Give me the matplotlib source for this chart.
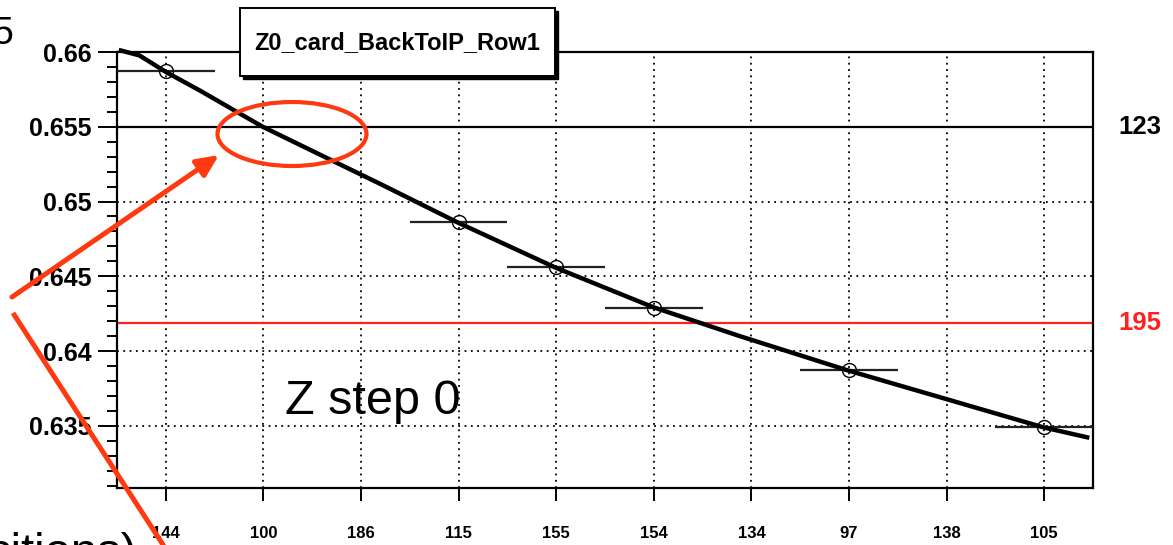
import numpy as np
import matplotlib.pyplot as plt
from matplotlib.patches import Rectangle, Ellipse
from matplotlib.transforms import blended_transform_factory

plt.rcParams['font.family'] = ['Liberation Sans', 'DejaVu Sans']

# bin labels along x
bins = ['144', '100', '186', '115', '155', '154', '134', '97', '138', '105']

# measured points (bin index, value)
pt_idx = [0, 3, 4, 5, 7, 9]
pt_val = [0.6587, 0.6486, 0.6456, 0.6429, 0.6387, 0.6349]

# fitted curve, sampled along x
fit_x = [-0.46, -0.27, 0.01, 0.35, 0.99, 1.71, 2.19, 3.0, 4.0, 4.99, 5.88, 6.98,
         7.98, 8.99, 9.44]
fit_y = [0.66010, 0.65977, 0.65863, 0.65742, 0.65501, 0.65272, 0.65120, 0.64857,
         0.64556, 0.64294, 0.6410, 0.63872, 0.63682, 0.63490, 0.63423]

# reference levels and their labels
ref_vals = [0.655, 0.64187]
ref_labels = ['123', '195']
ref_colors = ['black', '#ff2020']

W, H = 1173, 545
fig = plt.figure(figsize=(W / 100, H / 100), dpi=100)
ax = fig.add_axes([117 / W, 1 - 488 / H, (1093 - 117) / W, (488 - 52) / H])

xs = np.arange(len(bins))
ax.set_xlim(-0.5, len(bins) - 0.5)
ax.set_ylim(0.63084, 0.66)

dots = (0, (1, 2.5))
yt = np.arange(0.635, 0.6601, 0.005)
ax.set_xticks(xs)
ax.set_xticklabels(bins, fontsize=12, fontweight='bold')
ax.set_yticks(yt)
ax.set_yticklabels(['%g' % v for v in yt], fontsize=18, fontweight='bold')
ax.set_yticks(np.arange(0.631, 0.6601, 0.001), minor=True)
ax.tick_params(axis='x', direction='out', length=9, width=1.4, pad=18)
ax.tick_params(axis='y', which='major', direction='out', length=14, width=1.4, pad=4)
ax.tick_params(axis='y', which='minor', direction='out', length=7, width=1.4)
ax.grid(True, which='major', color='black', linestyle=dots, linewidth=1.3)
for s in ax.spines.values():
    s.set_linewidth(1.6)

for v, c in zip(ref_vals, ref_colors):
    ax.axhline(v, color=c, linewidth=1.6, zorder=2)

ax.errorbar(pt_idx, pt_val, xerr=0.5, fmt='o', mfc='none', mec='black', ms=10,
            mew=1.0, ecolor='#222222', elinewidth=1.6, capsize=0, zorder=3)
ax.plot(fit_x, fit_y, color='black', linewidth=3.2, zorder=4, clip_on=False)

tr = blended_transform_factory(ax.transAxes, ax.transData)
for v, lab, c in zip(ref_vals, ref_labels, ref_colors):
    ax.text(1.026, v, lab, transform=tr, color=c, fontsize=18.5,
            fontweight='bold', va='center', ha='left')

# overlay in pixel coordinates for the title box and annotations
ov = fig.add_axes([0, 0, 1, 1], zorder=10)
ov.set_xlim(0, W)
ov.set_ylim(H, 0)
ov.axis('off')
ov.patch.set_alpha(0)

ov.add_patch(Rectangle((243, 11), 315, 68, facecolor='black', edgecolor='black'))
ov.add_patch(Rectangle((240, 8), 315, 68, facecolor='white', edgecolor='black', linewidth=1.4))
ov.text(397, 43, 'Z0_card_BackToIP_Row1', fontsize=17, fontweight='bold',
        ha='center', va='center')

ov.text(285, 402, 'Z step 0', fontsize=35, ha='left', va='center')

red = '#ff3a10'
ov.add_patch(Ellipse((292, 134), 149, 64, fill=False, edgecolor=red, linewidth=3))
ov.annotate('', xy=(219, 155), xytext=(12, 297),
            arrowprops=dict(arrowstyle='-|>,head_length=1.3,head_width=0.6',
                            color=red, linewidth=3.6, shrinkA=0, shrinkB=0))
ov.plot([13, 180], [313, 571], color=red, linewidth=3.6, solid_capstyle='butt')

# fragments of surrounding slide text
ov.text(-7, 34, '5', fontsize=27, ha='left', va='center')
ov.text(-12, 566, 'sitions)', fontsize=34, ha='left', va='baseline')

fig.savefig('out.png', dpi=100)
